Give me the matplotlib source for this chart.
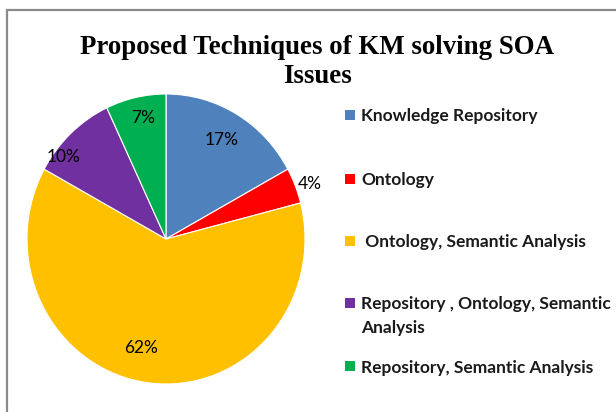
import matplotlib.pyplot as plt
import numpy as np
from matplotlib.patches import Rectangle

W, H = 616, 412

categories = [
    "Knowledge Repository",
    "Ontology",
    " Ontology, Semantic Analysis",
    "Repository , Ontology, Semantic\nAnalysis",
    "Repository, Semantic Analysis",
]
shares = [17, 4, 62, 10, 7]
colors = ["#4F81BD", "#FF0000", "#FFC000", "#7030A0", "#00B050"]

# percent label placement: radius fraction and angle nudge (deg), "best fit"
label_r = [0.79, 1.10, 0.77, 0.93, 0.85]
label_dang = [0, -1.4, -6.3, 9.2, -1.4]
# legend rows (pixel y of first line, from top)
legend_y = [115, 179, 241, 303, 366]

fig = plt.figure(figsize=(W / 100, H / 100), dpi=100)

# chart border (cut off at right/bottom like the original)
fig.patches.append(Rectangle(
    (7 / W, -0.05), 1.0, 1 - 10 / H + 0.05, transform=fig.transFigure,
    fill=False, edgecolor="#8a8a8a", linewidth=1.6))

fig.text(0.515, 1 - 62 / H, "Proposed Techniques of KM solving SOA\nIssues",
         ha="center", va="center", family="Liberation Serif",
         fontweight="bold", fontsize=19.4, linespacing=1.24)

ax = fig.add_axes([(166 - 139) / W, (412 - 384) / H, 278 / W, 290 / H])
wedges, texts, pcts = ax.pie(
    shares, colors=colors, startangle=90, counterclock=False,
    autopct="%d%%", radius=1.0,
    wedgeprops=dict(linewidth=0.8, edgecolor="white"),
    textprops=dict(family="Lato", fontsize=12.5, color="black"))
ax.set_aspect("auto")
ax.set_xlim(-1, 1)
ax.set_ylim(-1, 1)

for w, t, r, da in zip(wedges, pcts, label_r, label_dang):
    ang = np.deg2rad((w.theta1 + w.theta2) / 2 + da)
    t.set_position((r * np.cos(ang), r * np.sin(ang)))

# legend, laid out by hand like the Excel original
for label, col, y in zip(categories, colors, legend_y):
    fig.patches.append(Rectangle(
        (345 / W, 1 - (y + 5) / H), 10 / W, 10 / H,
        transform=fig.transFigure, facecolor=col, edgecolor="none"))
    for k, line in enumerate(label.split("\n")):
        fig.text(361 / W, 1 - (y + 23 * k) / H, line, ha="left",
                 va="center_baseline", family="Lato", fontweight="bold",
                 fontsize=12.5, color="#1a1a1a")

fig.savefig("out.png", dpi=100)
